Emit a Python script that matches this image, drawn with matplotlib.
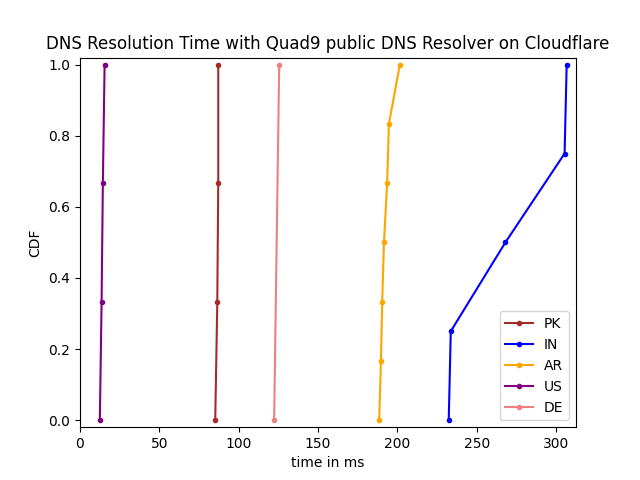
import matplotlib
matplotlib.use("Agg")
import matplotlib.pyplot as plt

# resolution times (ms) per country
pk_times = [85.2, 86.5, 87.1, 87.1]
in_times = [232.3, 233.6, 268.0, 305.3, 306.6]
ar_times = [188.5, 189.6, 190.4, 191.5, 193.5, 194.6, 201.5]
us_times = [12.5, 13.6, 14.4, 15.5]
de_times = [122.3, 125.5]

# CDF levels
pk_cdf = [0.0, 1/3, 2/3, 1.0]
in_cdf = [0.0, 0.25, 0.5, 0.75, 1.0]
ar_cdf = [0.0, 1/6, 2/6, 3/6, 4/6, 5/6, 1.0]
us_cdf = [0.0, 1/3, 2/3, 1.0]
de_cdf = [0.0, 1.0]

labels = ["PK", "IN", "AR", "US", "DE"]
colors = ["brown", "blue", "orange", "purple", "lightcoral"]

series = [(pk_times, pk_cdf), (in_times, in_cdf), (ar_times, ar_cdf),
          (us_times, us_cdf), (de_times, de_cdf)]

fig = plt.figure(figsize=(6.4, 4.8), dpi=100)
for (t, c), lab, col in zip(series, labels, colors):
    plt.plot(t, c, marker='.', color=col, label=lab)

plt.margins(0.02)
plt.xlim(left=0)
plt.xlabel("time in ms")
plt.ylabel("CDF")
plt.title("DNS Resolution Time with Quad9 public DNS Resolver on Cloudflare")
plt.legend(loc="lower right")
plt.savefig("out.png")
